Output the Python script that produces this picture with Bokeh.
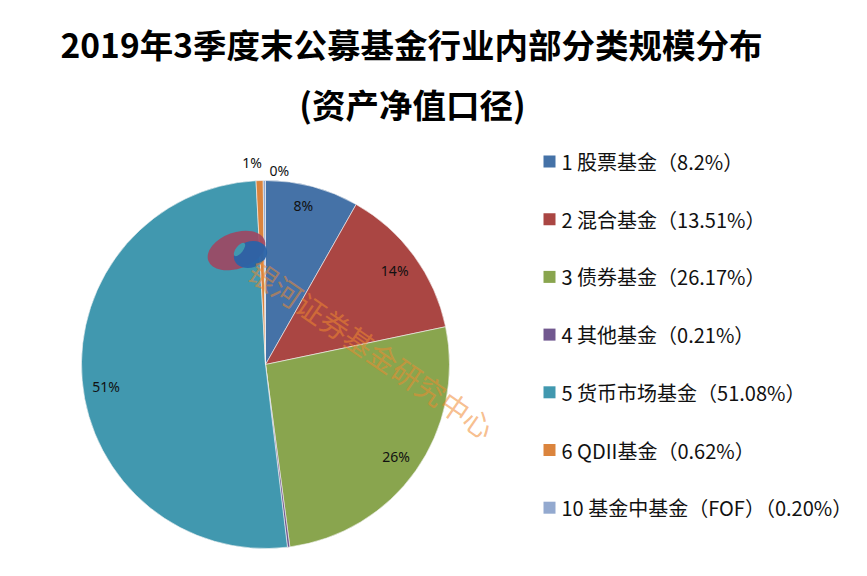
import numpy as np
from bokeh.plotting import figure
from bokeh.models import Range1d
from bokeh.core.properties import value
from bokeh.embed import file_html
from bokeh.resources import INLINE

# ---------------- data ----------------
title_line1 = "2019年3季度末公募基金行业内部分类规模分布"
title_line2 = "(资产净值口径)"
categories = ["1 股票基金", "2 混合基金", "3 债券基金", "4 其他基金",
              "5 货币市场基金", "6 QDII基金", "10 基金中基金（FOF）"]
shares = [8.2, 13.51, 26.17, 0.21, 51.08, 0.62, 0.20]
share_text = ["8.2%", "13.51%", "26.17%", "0.21%", "51.08%", "0.62%", "0.20%"]
show_label = [True, True, True, False, True, True, True]
colors = ["#4572A7", "#AA4643", "#89A54E", "#71588F", "#4198AF", "#DB843D", "#93A9CF"]
watermark = "银河证券基金研究中心"

# ---------------- layout (data units = pixels, y = 576 - screenY) ----------------
W, H = 851, 560
def Y(sy):
    return 576 - sy

cx, cy, R = 265, Y(364), 184

p = figure(width=W, height=H, output_backend="svg", toolbar_location=None,
           x_range=Range1d(0, W), y_range=Range1d(576 - H, 576),
           min_border=0)
p.axis.visible = False
p.grid.visible = False
p.outline_line_color = None
p.background_fill_color = "white"

font_cjk = value("Noto Sans CJK SC")

# titles
p.text(x=[411], y=[Y(43)], text=[title_line1], text_font=font_cjk,
       text_font_size="33.5px", text_font_style="bold", text_color="black",
       text_align="center", text_baseline="middle")
p.text(x=[412], y=[Y(103)], text=[title_line2], text_font=font_cjk,
       text_font_size="33.5px", text_font_style="bold", text_color="black",
       text_align="center", text_baseline="middle")

# pie
vals = np.array(shares, dtype=float)
frac = vals / vals.sum()
cum = np.concatenate([[0.0], np.cumsum(frac)])
start = np.pi / 2 - 2 * np.pi * cum[:-1]
end = np.pi / 2 - 2 * np.pi * cum[1:]
p.wedge(x=cx, y=cy, radius=R, start_angle=start, end_angle=end,
        direction="clock", fill_color=colors, line_color="#f4f4f4", line_width=0.6)

# data labels
mid = (start + end) / 2
lx, ly, lt = [], [], []
for i, m in enumerate(mid):
    if not show_label[i]:
        continue
    txt = f"{int(round(shares[i]))}%"
    if frac[i] > 0.03:
        r = 160
        x, y = cx + r * np.cos(m), cy + r * np.sin(m)
        if i == 4:
            y -= 8  # Excel places this label slightly lower
        if i == 0:
            x, y = x - 3, y + 4
    else:
        r = R + 16
        x, y = cx + r * np.cos(m), cy + r * np.sin(m)
        # outside labels nudged apart like the original
        if i == 5:
            x, y = x - 7, y + 2
        else:
            x, y = x + 15, y - 6
    lx.append(x); ly.append(y); lt.append(txt)
p.text(x=lx, y=ly, text=lt, text_font=value("Noto Sans"), text_font_size="14px",
       text_color="#111111", text_align="center", text_baseline="middle")

# watermark logo + text
p.ellipse(x=[236], y=[Y(250)], width=60, height=36, angle=0.35,
          fill_color="#A04662", fill_alpha=0.9, line_color=None)
p.ellipse(x=[250], y=[Y(254)], width=34, height=26, angle=0.35,
          fill_color="#2A63A8", fill_alpha=0.95, line_color=None)
p.ellipse(x=[239], y=[Y(249)], width=16, height=7, angle=0.9,
          fill_color="#4198AF", fill_alpha=1.0, line_color=None)
p.text(x=[252], y=[Y(266)], text=[watermark], text_font=font_cjk,
       text_font_size="29px", text_color="#F08A30", text_alpha=0.55,
       angle=-0.60, text_align="left", text_baseline="middle")

# legend (manual)
n = len(categories)
leg_y = [Y(161 + i * 57.7) for i in range(n)]
p.scatter(x=[549] * n, y=leg_y, marker="square", size=12, fill_color=colors,
          line_color=None)
leg_txt = [f"{c}（{s}）" for c, s in zip(categories, share_text)]
p.text(x=[561] * n, y=leg_y, text=leg_txt, text_font=font_cjk,
       text_font_size="20px", text_color="#111111", text_align="left",
       text_baseline="middle")

open("out.html", "w").write(file_html(p, INLINE))
